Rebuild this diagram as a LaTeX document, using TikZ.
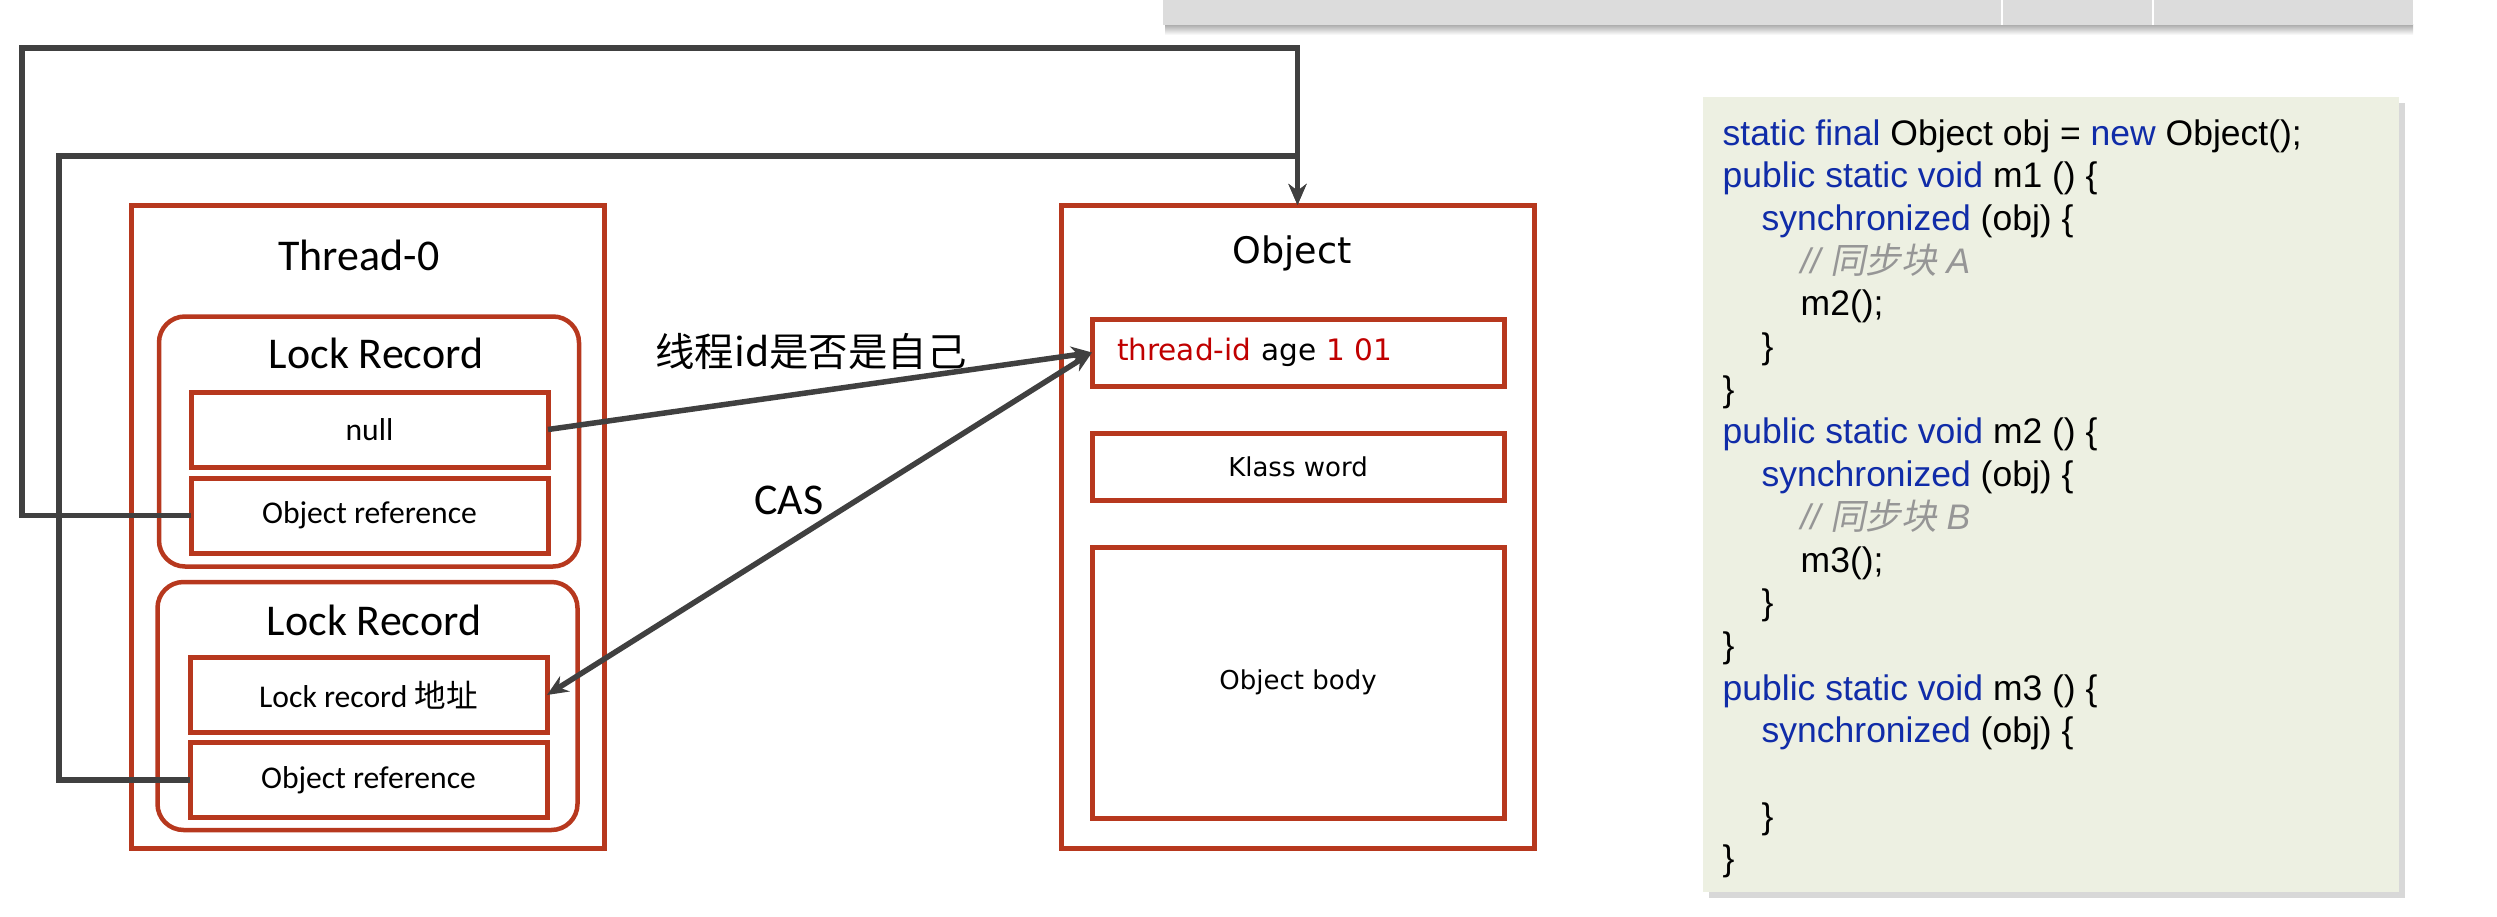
\documentclass[tikz,border=0pt]{standalone}
\usepackage{fontspec}
\usepackage{xcolor}
\usetikzlibrary{arrows.meta, positioning, shadows}
\newfontfamily\calfont{Carlito}
\newfontfamily\verfont{DejaVu Sans}
\newfontfamily\cjkfont{Noto Sans CJK SC}
\newfontfamily\cjkslant[FakeSlant=0.2]{Noto Sans CJK SC}
\newfontfamily\codefont{Liberation Sans}
\definecolor{boxred}{RGB}{183,56,30}
\definecolor{linkgray}{RGB}{64,64,64}
\definecolor{markred}{RGB}{192,0,0}
\definecolor{kwblue}{RGB}{16,44,168}
\definecolor{cmtgray}{RGB}{150,150,150}
\definecolor{codebg}{RGB}{237,240,226}
\definecolor{barbg}{RGB}{220,220,220}
\newcommand{\kw}[1]{\textcolor{kwblue}{#1}}
\newcommand{\cmt}[1]{\textcolor{cmtgray}{\itshape #1}}
\newcommand{\ind}{\hspace*{3.9mm}}
\tikzset{
  frame/.style={
    rectangle, draw=boxred, line width=0.5mm, outer sep=0pt,
    minimum width=47.3mm, minimum height=64.3mm,
  },
  record/.style={
    rectangle, rounded corners=2.6mm, draw=boxred, line width=0.45mm,
    outer sep=0pt, minimum width=42mm, minimum height=25mm,
  },
  slot/.style={
    rectangle, draw=boxred, line width=0.5mm, outer sep=0pt, inner sep=0pt,
    minimum width=35.7mm, minimum height=7.5mm,
    font=\calfont\fontsize{9}{11}\selectfont,
  },
  field/.style={
    slot, minimum width=41.2mm, minimum height=6.7mm,
    font=\verfont\fontsize{7.4}{9}\selectfont,
  },
  title/.style={font=\calfont\fontsize{12.5}{15}\selectfont, inner sep=0pt},
  link/.style={draw=linkgray, line width=0.55mm},
  arrow/.style={link, -{Stealth[length=2.1mm, width=1.8mm]}},
  twoway/.style={link, {Stealth[length=2.1mm, width=1.8mm]}-{Stealth[length=2.1mm, width=1.8mm]}},
}
\begin{document}
\begin{tikzpicture}[x=0.1mm, y=-0.1mm]
  \useasboundingbox (0,0) rectangle (2497,917);

  % screen bar at the top edge
  \shade[top color=gray!70, bottom color=white] (1165,24) rectangle (2413,35);
  \fill[barbg] (1163,-5) rectangle (2413,25);
  \draw[white, line width=0.25mm] (2002,-5) -- (2002,25) (2153,-5) -- (2153,25);

  % Thread-0 stack frame
  \node[frame] (thread) at (367.5,526.5) {};
  \node[title] (threadname) at (359,255) {Thread-0};
  \node[record] (rec1) at (369,441.5) {};
  \node[title] (rec1name) at (376,353) {Lock Record};
  \node[slot] (null) at (369.5,429.5) {null};
  \node[slot, below=1.1mm of null] (ref1) {Object reference};
  \node[record, minimum height=24.8mm] (rec2) at (367.5,706) {};
  \node[title] (rec2name) at (374,620) {Lock Record};
  \node[slot] (lockaddr) at (368.5,695) {Lock record {\cjkfont 地址}};
  \node[slot, below=1mm of lockaddr] (ref2) {Object reference};

  % Object header
  \node[frame] (obj) at (1297.5,526.5) {};
  \node[font=\verfont\fontsize{10.4}{12}\selectfont, inner sep=0pt] (objname) at (1292,253) {Object};
  \node[field, text width=36.2mm, inner xsep=2.5mm, align=left,
        font=\verfont\fontsize{8.4}{10}\selectfont] (mark) at (1298,352.5)
        {\textcolor{markred}{thread-id} age \textcolor{markred}{1 01}};
  \node[field, below=4.7mm of mark] (klass) {Klass word};
  \node[field, minimum height=27.1mm, below=4.7mm of klass] (body) {Object body};

  % labels on the arrows
  \node[font=\cjkfont\fontsize{11.2}{13}\selectfont, inner sep=0pt] (ownq) at (811,352) {线程id是否是自己};
  \node[title] (cas) at (789,500) {CAS};

  % connectors
  \coordinate (loopA) at (22,48);
  \coordinate (loopB) at (59,156);
  \draw[arrow] (ref1.west) -| (loopA) -| (obj.north);
  \draw[arrow] (ref2.west) -| (loopB) -| (obj.north);
  \draw[arrow] (null.east) -- (mark.west);
  \draw[twoway] (lockaddr.east) -- (mark.west);

  % code listing
  \node[fill=codebg, outer sep=0pt,
        drop shadow={shadow xshift=0.6mm, shadow yshift=-0.6mm, fill=gray!60, opacity=0.5},
        minimum width=69.6mm, minimum height=79.5mm] (code) at (2051,494.5) {};
  \node[anchor=base west, inner sep=0pt, font=\codefont\fontsize{10.1}{12.15}\selectfont]
    (codetext) at (1722,145) {\parbox[t]{66mm}{%
      \kw{static final} Object obj = \kw{new} Object();\\
      \kw{public static void} m1 () \{\\
      \ind\kw{synchronized} (obj) \{\\
      \ind\ind\cmt{// {\cjkslant 同步块} A}\\
      \ind\ind m2();\\
      \ind\}\\
      \}\\
      \kw{public static void} m2 () \{\\
      \ind\kw{synchronized} (obj) \{\\
      \ind\ind\cmt{// {\cjkslant 同步块} B}\\
      \ind\ind m3();\\
      \ind\}\\
      \}\\
      \kw{public static void} m3 () \{\\
      \ind\kw{synchronized} (obj) \{\\
      \mbox{}\\
      \ind\}\\
      \}}};

\end{tikzpicture}
\end{document}
